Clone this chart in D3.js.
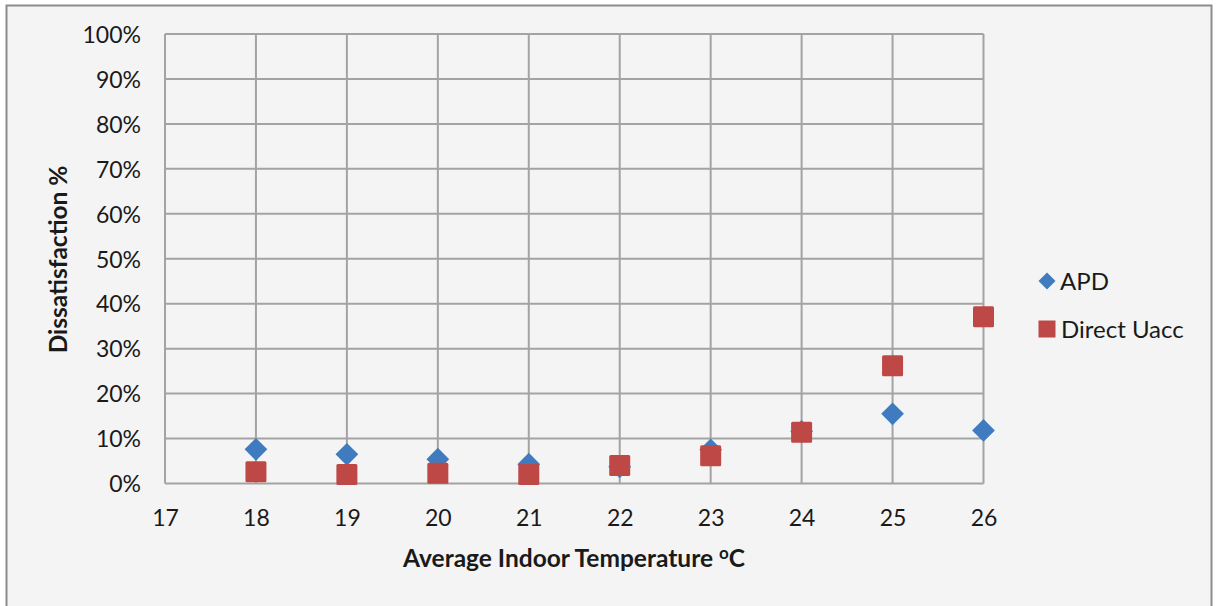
<!DOCTYPE html>
<html>
<head>
<meta charset="utf-8">
<script src="https://cdn.jsdelivr.net/npm/d3@7"></script>
<style>
  html, body { margin: 0; padding: 0; background: #ffffff; }
  svg { display: block; }
  text { font-family: Lato, "Open Sans", "Liberation Sans", sans-serif; fill: #1a1a1a; }
</style>
</head>
<body>
<svg id="chart" width="1216" height="606"></svg>
<script>
// Temperatures (°C) and dissatisfaction fractions for each method
const temperatures = [18, 19, 20, 21, 22, 23, 24, 25, 26];
const apd          = [0.076, 0.065, 0.054, 0.043, 0.037, 0.075, 0.116, 0.155, 0.118];
const directUacc   = [0.026, 0.020, 0.023, 0.020, 0.040, 0.062, 0.114, 0.262, 0.371];
const xTicks = [17, 18, 19, 20, 21, 22, 23, 24, 25, 26];
const yTicks = [0, 0.1, 0.2, 0.3, 0.4, 0.5, 0.6, 0.7, 0.8, 0.9, 1.0];

const seriesNames = ["APD", "Direct Uacc"];
const colors = { "APD": "#3F7BBE", "Direct Uacc": "#BE4846" };

const svg = d3.select("#chart");

// Chart frame
svg.append("rect").attr("x", 6.5).attr("y", 5.5).attr("width", 1205).attr("height", 605)
  .attr("fill", "#f4f4f4").attr("stroke", "#8c8c8c").attr("stroke-width", 2);

const plot = { left: 165, right: 983.5, top: 34, bottom: 483.5 };

const x = d3.scaleLinear().domain([17, 26]).range([plot.left, plot.right]);
const y = d3.scaleLinear().domain([0, 1]).range([plot.bottom, plot.top]);

// Gridlines
const grid = svg.append("g").attr("stroke", "#a3a3a3").attr("stroke-width", 2);
grid.selectAll("line.h").data(yTicks).join("line")
  .attr("x1", plot.left).attr("x2", plot.right)
  .attr("y1", d => y(d)).attr("y2", d => y(d));
grid.selectAll("line.v").data(xTicks).join("line")
  .attr("x1", d => x(d)).attr("x2", d => x(d))
  .attr("y1", plot.top).attr("y2", plot.bottom);

// Y axis labels
const yAxis = d3.axisLeft(y).tickValues(yTicks).tickFormat(d3.format(".0%")).tickSize(0).tickPadding(24);
const gy = svg.append("g").attr("transform", `translate(${plot.left},0)`).call(yAxis);
gy.select(".domain").remove();
gy.selectAll("text").attr("font-size", 23).style("fill", "#1a1a1a")
  .style("font-family", "Lato, 'Open Sans', sans-serif").attr("dy", "0.36em");

// X axis labels
const xAxis = d3.axisBottom(x).tickValues(xTicks).tickFormat(d3.format("d")).tickSize(0).tickPadding(26);
const gx = svg.append("g").attr("transform", `translate(0,${plot.bottom})`).call(xAxis);
gx.select(".domain").remove();
gx.selectAll("text").attr("font-size", 23).style("fill", "#1a1a1a")
  .style("font-family", "Lato, 'Open Sans', sans-serif");

// Axis titles
svg.append("text")
  .attr("transform", `translate(67,259.5) rotate(-90)`)
  .attr("text-anchor", "middle").attr("font-size", 24.5).attr("font-weight", "bold")
  .text("Dissatisfaction %");

const xt = svg.append("text").attr("x", 574).attr("y", 567)
  .attr("text-anchor", "middle").attr("font-size", 24.5).attr("font-weight", "bold");
xt.append("tspan").text("Average Indoor Temperature ");
xt.append("tspan").attr("font-size", 17).attr("dy", -8).text("o");
xt.append("tspan").attr("dy", 8).text("C");

// Markers
const diamond = d3.symbol().type(d3.symbolDiamond2).size(330);
const apdData = temperatures.map((t, i) => ({ t, v: apd[i] }));
const uaccData = temperatures.map((t, i) => ({ t, v: directUacc[i] }));

svg.append("g").selectAll("path").data(apdData).join("path")
  .attr("d", diamond)
  .attr("transform", d => `translate(${x(d.t)},${y(d.v)})`)
  .attr("fill", colors["APD"]);

const sq = 21;
svg.append("g").selectAll("rect").data(uaccData).join("rect")
  .attr("x", d => x(d.t) - sq / 2).attr("y", d => y(d.v) - sq / 2)
  .attr("width", sq).attr("height", sq).attr("rx", 1.5)
  .attr("fill", colors["Direct Uacc"]);

// Legend
const legend = svg.append("g");
const legendY = [281, 329];
legend.append("path").attr("d", d3.symbol().type(d3.symbolDiamond2).size(184))
  .attr("transform", `translate(1047,${legendY[0]})`).attr("fill", colors["APD"]);
legend.append("rect").attr("x", 1038.5).attr("y", legendY[1] - 8.5).attr("width", 17).attr("height", 17)
  .attr("fill", colors["Direct Uacc"]);
legend.selectAll("text").data(seriesNames).join("text")
  .attr("x", (d, i) => i === 0 ? 1060 : 1061)
  .attr("y", (d, i) => legendY[i]).attr("dy", "0.36em")
  .attr("font-size", 24).text(d => d);
</script>
</body>
</html>
